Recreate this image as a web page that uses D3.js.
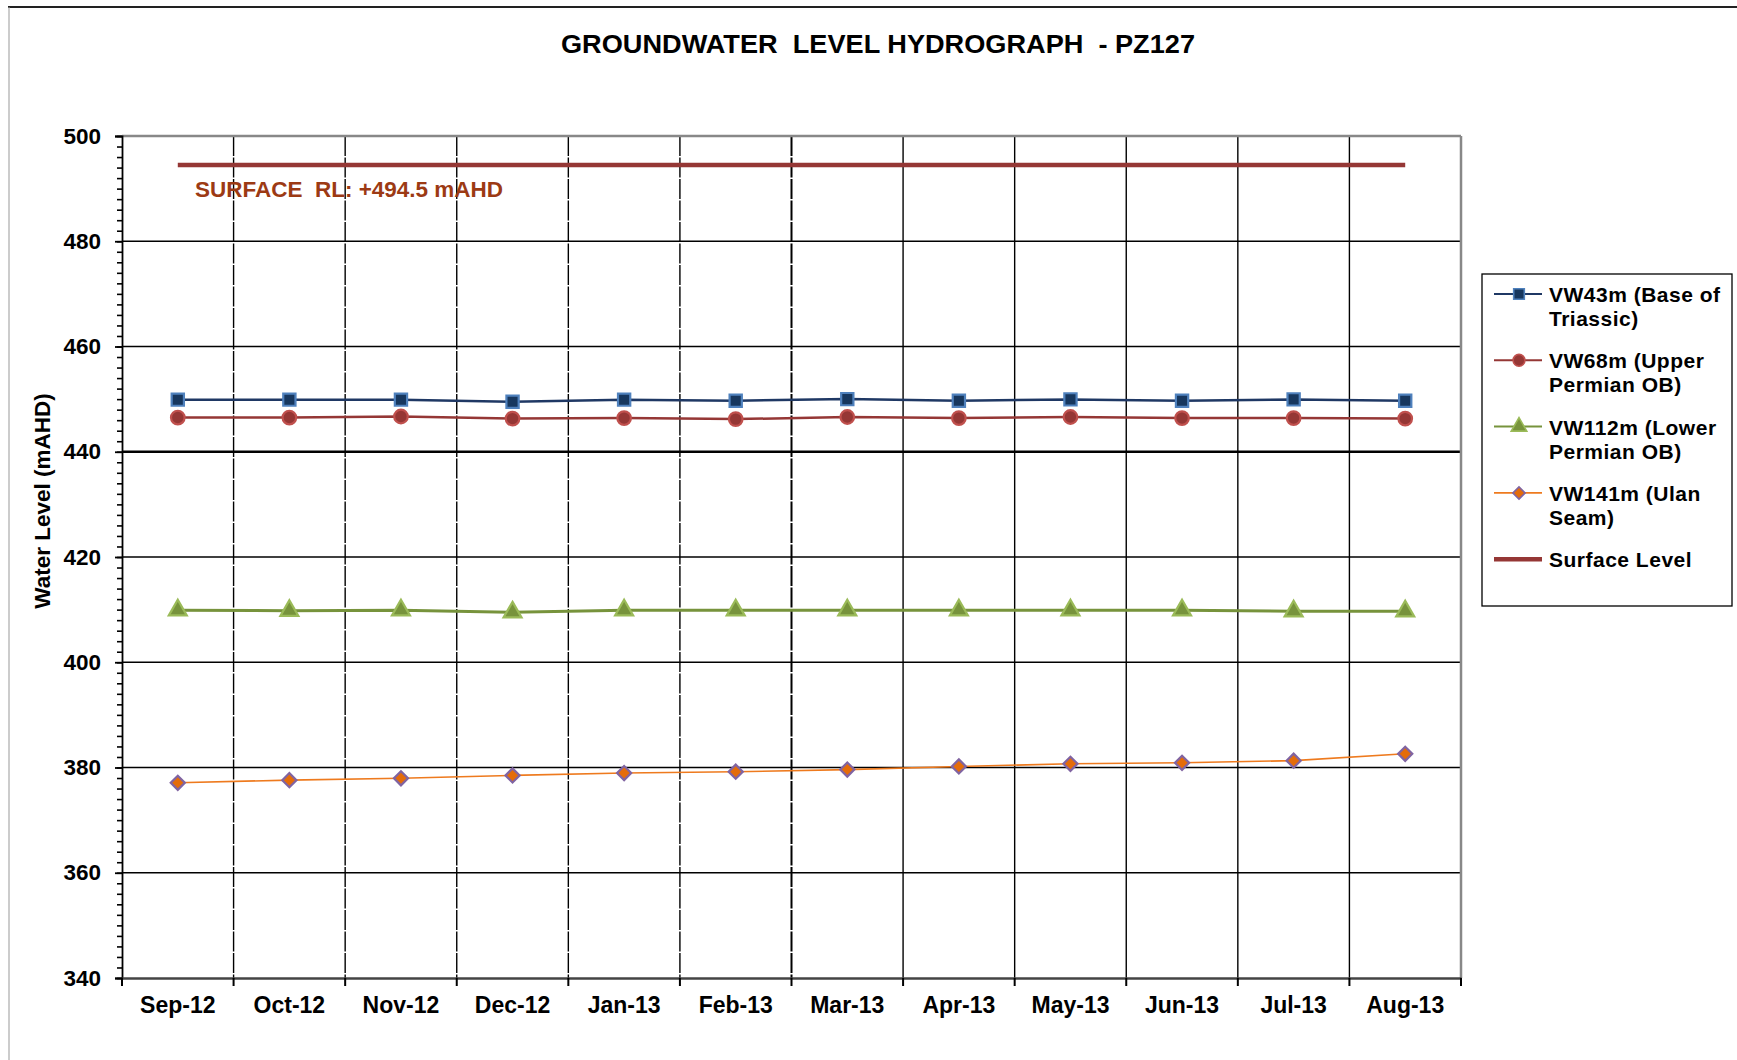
<!DOCTYPE html>
<html>
<head>
<meta charset="utf-8">
<script src="https://cdn.jsdelivr.net/npm/d3@7"></script>
<style>
  body { margin: 0; background: #fff; }
  text { font-family: "Liberation Sans", Arial, sans-serif; font-weight: bold; white-space: pre; }
</style>
</head>
<body>
<svg id="chart"></svg>
<script>
var months = ["Sep-12", "Oct-12", "Nov-12", "Dec-12", "Jan-13", "Feb-13", "Mar-13", "Apr-13", "May-13", "Jun-13", "Jul-13", "Aug-13"];
var vw43 = [449.9, 449.9, 449.9, 449.5, 449.9, 449.7, 450.0, 449.7, 449.95, 449.7, 449.95, 449.7];
var vw68 = [446.5, 446.5, 446.7, 446.3, 446.4, 446.2, 446.6, 446.4, 446.6, 446.4, 446.4, 446.3];
var vw112 = [409.9, 409.8, 409.9, 409.5, 409.9, 409.9, 409.9, 409.9, 409.9, 409.9, 409.7, 409.7];
var vw141 = [377.1, 377.6, 377.95, 378.5, 378.95, 379.2, 379.6, 380.2, 380.7, 380.9, 381.3, 382.6];
var surface = [494.5, 494.5, 494.5, 494.5, 494.5, 494.5, 494.5, 494.5, 494.5, 494.5, 494.5, 494.5];
var yTicks = [340, 360, 380, 400, 420, 440, 460, 480, 500];
var legendLabels = [["VW43m (Base of", "Triassic)"], ["VW68m (Upper", "Permian OB)"], ["VW112m (Lower", "Permian OB)"], ["VW141m (Ulan", "Seam)"], ["Surface Level"]];

var svgWidth = 1737;
var svgHeight = 1060;
var plotLeft = 122, plotRight = 1461, plotTop = 136, plotBottom = 978;

var svg = d3.select("#chart")
    .attr("width", svgWidth)
    .attr("height", svgHeight);

// outer frame
svg.append("line").attr("x1", 8).attr("x2", svgWidth).attr("y1", 7).attr("y2", 7)
    .attr("stroke", "#222").attr("stroke-width", 2);
svg.append("line").attr("x1", 9).attr("x2", 9).attr("y1", 7).attr("y2", svgHeight)
    .attr("stroke", "#999").attr("stroke-width", 1);

var xScale = d3.scaleBand()
    .domain(months)
    .range([plotLeft, plotRight])
    .padding(0);

var yScale = d3.scaleLinear()
    .domain([340, 500])
    .range([plotBottom, plotTop]);

function cx(d, i) { return xScale(months[i]) + xScale.bandwidth() / 2; }

// horizontal grid
svg.append("g").selectAll("line")
    .data(yTicks.slice(1, -1))
    .enter()
    .append("line")
    .attr("x1", plotLeft).attr("x2", plotRight)
    .attr("y1", function(d) { return yScale(d); })
    .attr("y2", function(d) { return yScale(d); })
    .attr("stroke", "#000")
    .attr("stroke-width", function(d) { return d == 440 ? 2.4 : 1.3; });

// vertical grid at month boundaries
svg.append("g").selectAll("line")
    .data(months.slice(1))
    .enter()
    .append("line")
    .attr("x1", function(d) { return xScale(d); })
    .attr("x2", function(d) { return xScale(d); })
    .attr("y1", plotTop).attr("y2", plotBottom)
    .attr("stroke", "#000")
    .attr("stroke-width", function(d, i) { return i == 5 ? 2 : 1.4; })
    .attr("stroke-dasharray", function(d, i) { return i < 6 ? "20,1.5" : null; });

// plot border top/right
svg.append("line").attr("x1", plotLeft).attr("x2", plotRight).attr("y1", plotTop).attr("y2", plotTop)
    .attr("stroke", "#888").attr("stroke-width", 2.5);
svg.append("line").attr("x1", plotRight).attr("x2", plotRight).attr("y1", plotTop).attr("y2", plotBottom)
    .attr("stroke", "#888").attr("stroke-width", 2.5);

// y axis: minor ticks
var yMinor = d3.axisLeft(yScale)
    .tickValues(d3.range(340, 501, 2))
    .tickSize(5)
    .tickFormat("");
svg.append("g")
    .attr("transform", "translate(" + plotLeft + ",0)")
    .call(yMinor)
    .call(function(g) {
        g.select(".domain").remove();
        g.selectAll("line").attr("stroke", "#000").attr("stroke-width", 1.6);
    });

var yAxis = d3.axisLeft(yScale)
    .tickValues(yTicks)
    .tickSize(7)
    .tickPadding(14);
svg.append("g")
    .attr("transform", "translate(" + plotLeft + ",0)")
    .call(yAxis)
    .call(function(g) {
        g.select(".domain").attr("stroke", "#000").attr("stroke-width", 1.8);
        g.selectAll("line").attr("stroke", "#000").attr("stroke-width", 1.8);
        g.selectAll("text")
            .attr("font-size", 22.5)
            .attr("font-family", "Liberation Sans, Arial, sans-serif")
            .attr("font-weight", "bold")
            .attr("fill", "#000");
    });

// x axis
var xAxis = d3.axisBottom(xScale).tickSize(0).tickPadding(19);
svg.append("g")
    .attr("transform", "translate(0," + plotBottom + ")")
    .call(xAxis)
    .call(function(g) {
        g.select(".domain").attr("stroke", "#444").attr("stroke-width", 2.5);
        g.selectAll("text")
            .attr("font-size", 23)
            .attr("font-family", "Liberation Sans, Arial, sans-serif")
            .attr("font-weight", "bold")
            .attr("fill", "#000");
    });

// x boundary ticks
svg.append("g").selectAll("line")
    .data(months.concat(["end"]))
    .enter()
    .append("line")
    .attr("x1", function(d) { return d == "end" ? plotRight : xScale(d); })
    .attr("x2", function(d) { return d == "end" ? plotRight : xScale(d); })
    .attr("y1", plotBottom).attr("y2", plotBottom + 8)
    .attr("stroke", "#000").attr("stroke-width", 2);

// surface line + label
var line = d3.line()
    .x(function(d, i) { return cx(d, i); })
    .y(function(d) { return yScale(d); });

svg.append("path")
    .datum(surface)
    .attr("d", line)
    .attr("fill", "none")
    .attr("stroke", "#953735")
    .attr("stroke-width", 4.5);

svg.append("text")
    .attr("x", 195).attr("y", 197)
    .attr("font-size", 22)
    .attr("fill", "#9C3A14")
    .attr("textLength", 308)
    .attr("lengthAdjust", "spacingAndGlyphs")
    .text("SURFACE  RL: +494.5 mAHD");

var series = [
    { data: vw43, line: "#1F3864", width: 2.5, fill: "#17375E", stroke: "#4F81BD", sym: d3.symbolSquare, size: 150, rot: 0 },
    { data: vw68, line: "#953735", width: 2.5, fill: "#953735", stroke: "#C0504D", sym: d3.symbolCircle, size: 145, rot: 0 },
    { data: vw112, line: "#77933C", width: 3, fill: "#77933C", stroke: "#9BBB59", sym: d3.symbolTriangle, size: 140, rot: 0 },
    { data: vw141, line: "#EE7A1E", width: 1.6, fill: "#E46C0A", stroke: "#8064A2", sym: d3.symbolSquare, size: 100, rot: 45 }
];

series.forEach(function(s) {
    svg.append("path")
        .datum(s.data)
        .attr("d", line)
        .attr("fill", "none")
        .attr("stroke", s.line)
        .attr("stroke-width", s.width);

    svg.append("g").selectAll("path")
        .data(s.data)
        .enter()
        .append("path")
        .attr("d", d3.symbol().type(s.sym).size(s.size))
        .attr("transform", function(d, i) {
            return "translate(" + cx(d, i) + "," + yScale(d) + ") rotate(" + s.rot + ")";
        })
        .attr("fill", s.fill)
        .attr("stroke", s.stroke)
        .attr("stroke-width", 2.2);
});

// title
svg.append("text")
    .attr("x", 878).attr("y", 53)
    .attr("text-anchor", "middle")
    .attr("font-size", 26.5)
    .attr("textLength", 634)
    .attr("lengthAdjust", "spacingAndGlyphs")
    .attr("fill", "#000")
    .text("GROUNDWATER  LEVEL HYDROGRAPH  - PZ127");

// y label
svg.append("text")
    .attr("transform", "translate(50,501) rotate(-90)")
    .attr("text-anchor", "middle")
    .attr("font-size", 22.5)
    .attr("fill", "#000")
    .text("Water Level (mAHD)");

// legend
var legend = svg.append("g");
legend.append("rect")
    .attr("x", 1482).attr("y", 274)
    .attr("width", 250).attr("height", 332)
    .attr("fill", "#fff")
    .attr("stroke", "#000")
    .attr("stroke-width", 1.3);

var legendItems = series.concat([{ line: "#953735", width: 4.5, sym: null }]);
legendItems.forEach(function(s, i) {
    var ly = 294 + i * 66.3;
    var g = legend.append("g").attr("transform", "translate(0," + ly + ")");
    g.append("line")
        .attr("x1", 1494).attr("x2", 1542)
        .attr("y1", 0).attr("y2", 0)
        .attr("stroke", s.line)
        .attr("stroke-width", s.sym ? Math.min(s.width, 2) : s.width);
    if (s.sym) {
        g.append("path")
            .attr("d", d3.symbol().type(s.sym).size(s.size * 0.75))
            .attr("transform", "translate(1519,0) rotate(" + s.rot + ")")
            .attr("fill", s.fill)
            .attr("stroke", s.stroke)
            .attr("stroke-width", 1.6);
    }
    legendLabels[i].forEach(function(t, j) {
        g.append("text")
            .attr("x", 1549)
            .attr("y", 8 + j * 24)
            .attr("font-size", 21)
            .attr("letter-spacing", 0.5)
            .attr("fill", "#000")
            .text(t);
    });
});
</script>
</body>
</html>
